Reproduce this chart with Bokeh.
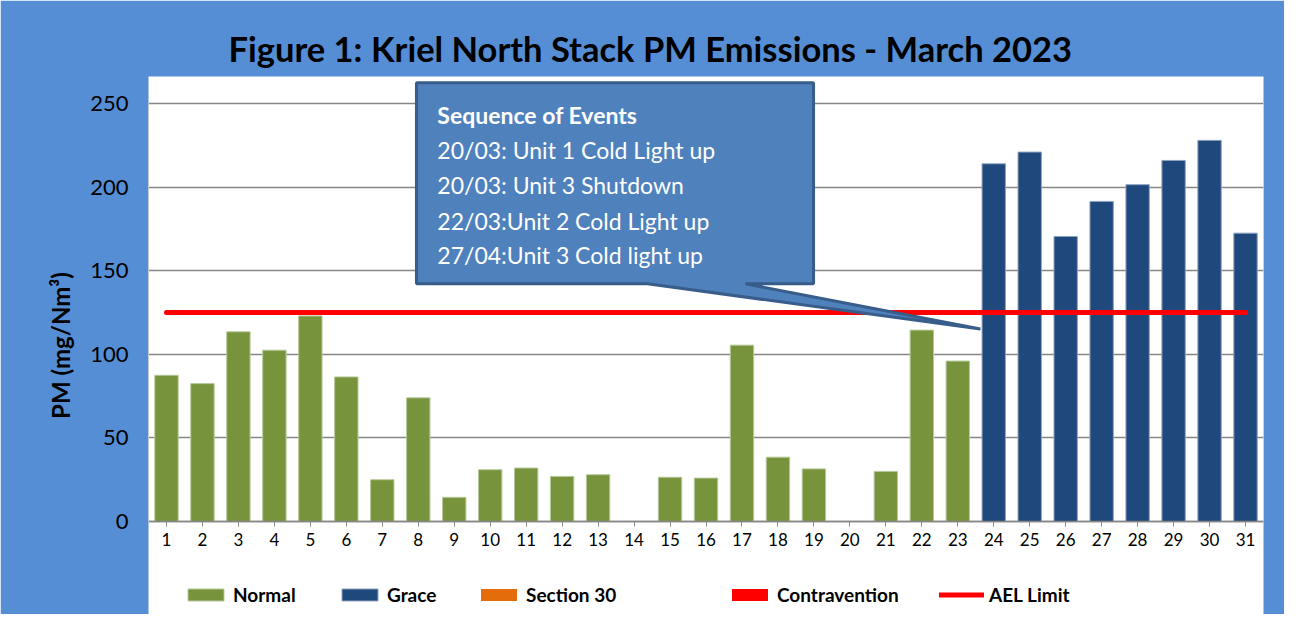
from bokeh.plotting import figure
from bokeh.models import (ColumnDataSource, FixedTicker, Legend, LegendItem, Label,
                          PolyAnnotation, BoxAnnotation, Range1d)
from bokeh.embed import file_html
from bokeh.resources import INLINE

# ---------------- data ----------------
days = list(range(1, 32))
normal_days = list(range(1, 24))
normal_pm = [87.5, 82.5, 113.5, 102.5, 123, 86.5, 25, 74, 14.5, 31, 32, 27, 28,
             0, 26.5, 26, 105.5, 38.5, 31.5, 0, 30, 114.5, 96]
grace_days = list(range(24, 32))
grace_pm = [214, 221, 170.5, 191.5, 201.5, 216, 228, 172.5]
# no Section 30 / Contravention days this month (all zero)
section30_pm = [0, 0, 0, 0, 0, 0, 0, 0, 0, 0, 0, 0, 0, 0, 0, 0,
                0, 0, 0, 0, 0, 0, 0, 0, 0, 0, 0, 0, 0, 0, 0]
contravention_pm = [0, 0, 0, 0, 0, 0, 0, 0, 0, 0, 0, 0, 0, 0, 0, 0,
                    0, 0, 0, 0, 0, 0, 0, 0, 0, 0, 0, 0, 0, 0, 0]
ael_limit = 125
y_ticks = [0, 50, 100, 150, 200, 250]

title_text = "Figure 1: Kriel North Stack PM Emissions -  March 2023"
y_label = "PM (mg/Nm³)"
callout_lines = ["Sequence of Events",
                 "20/03: Unit 1 Cold Light up",
                 "20/03: Unit 3 Shutdown",
                 "22/03:Unit 2 Cold Light up",
                 "27/04:Unit 3 Cold light up"]

# ---------------- styles ----------------
BG = "#558ED5"
GREEN = "#77933C"
NAVY = "#1F497D"
ORANGE = "#E46C0A"
RED = "#FF0000"
FONT = "Lato"

# frame spans from above the plot area (room for the callout) down to the
# bottom of the figure (room for the legend); white area drawn for 0..250.
p = figure(width=1284, height=614, output_backend="svg", toolbar_location=None,
           x_range=Range1d(0.5, 31.5), y_range=Range1d(-55.6, 266.2),
           min_border_left=148, min_border_right=21, min_border_top=76,
           min_border_bottom=0)
p.background_fill_alpha = 0
p.border_fill_color = BG
p.outline_line_color = None

p.add_layout(BoxAnnotation(bottom=0, top=250, fill_color="white", fill_alpha=1.0,
                           line_color=None, level="image"))

# title
p.title.text = title_text
p.title.align = "left"
p.title.offset = 80
p.title.standoff = 16
p.title.text_font = FONT
p.title.text_font_size = "34.5px"
p.title.text_font_style = "bold"
p.title.text_color = "black"

bar_w = 0.65
src_n = ColumnDataSource(dict(x=normal_days, top=normal_pm))
src_g = ColumnDataSource(dict(x=grace_days, top=grace_pm))
src_s = ColumnDataSource(dict(x=days, top=section30_pm))
src_c = ColumnDataSource(dict(x=days, top=contravention_pm))

r_n = p.vbar(x="x", top="top", width=bar_w, source=src_n, fill_color=GREEN,
             line_color="#B7C99A", line_width=1)
r_g = p.vbar(x="x", top="top", width=bar_w, source=src_g, fill_color=NAVY,
             line_color="#8FA4C0", line_width=1)
r_s = p.vbar(x="x", top="top", width=bar_w, source=src_s, fill_color=ORANGE,
             line_color=None)
r_c = p.vbar(x="x", top="top", width=bar_w, source=src_c, fill_color=RED,
             line_color=None)
r_l = p.line(x=days, y=[ael_limit] * len(days), line_color=RED, line_width=5,
             line_cap="round")

# axes
p.xaxis.fixed_location = 0
p.xaxis.ticker = FixedTicker(ticks=days)
p.xaxis.axis_line_color = "#868686"
p.xaxis.axis_line_width = 1.5
p.xaxis.major_tick_line_color = "#868686"
p.xaxis.major_tick_out = 5
p.xaxis.major_tick_in = 0
p.xaxis.minor_tick_line_color = None
p.xaxis.major_label_text_font = FONT
p.xaxis.major_label_text_font_size = "17px"
p.xaxis.major_label_text_color = "black"
p.xaxis.major_label_standoff = 6

p.yaxis.ticker = FixedTicker(ticks=y_ticks)
p.yaxis.bounds = (0, 250)
p.yaxis.axis_line_color = "#C8C8C8"
p.yaxis.major_tick_line_color = None
p.yaxis.minor_tick_line_color = None
p.yaxis.major_label_text_font = FONT
p.yaxis.major_label_text_font_size = "22px"
p.yaxis.major_label_text_color = "black"
p.yaxis.major_label_standoff = 14
p.yaxis.axis_label = y_label
p.yaxis.axis_label_text_font = FONT
p.yaxis.axis_label_text_font_size = "24px"
p.yaxis.axis_label_text_font_style = "bold"
p.yaxis.axis_label_text_color = "black"
p.yaxis.axis_label_standoff = 12

p.xgrid.grid_line_color = None
p.ygrid.grid_line_color = "#868686"
p.ygrid.grid_line_width = 1.5

# callout (box with pointer)
callout = PolyAnnotation(
    xs=[7.95, 18.99, 18.99, 17.1, 23.63, 14.37, 7.95],
    ys=[262.4, 262.4, 142.2, 142.2, 115.2, 142.2, 142.2],
    fill_color="#4F81BD", fill_alpha=1.0, line_color="#385D8A", line_alpha=1.0,
    line_width=3)
p.add_layout(callout)
line_y = [243.1, 222.2, 201.3, 179.6, 159.4]
for i, (txt, yy) in enumerate(zip(callout_lines, line_y)):
    p.add_layout(Label(x=8.53, y=yy, text=txt, text_color="white",
                       text_font=FONT, text_font_size="23px",
                       text_font_style="bold" if i == 0 else "normal",
                       text_baseline="middle", text_align="left"))

# legends (one per item, to reproduce the uneven spacing)
legend_specs = [("Normal", r_n, 35), ("Grace", r_g, 189), ("Section 30", r_s, 328),
                ("Contravention", r_c, 579), ("AEL Limit", r_l, 791)]
for label, rend, xoff in legend_specs:
    lg = Legend(items=[LegendItem(label=label, renderers=[rend])],
                location=(xoff, 8), orientation="horizontal",
                glyph_width=45, glyph_height=15, label_standoff=5,
                label_height=20, padding=0, margin=0, spacing=0,
                border_line_color=None, background_fill_alpha=0,
                label_text_font=FONT, label_text_font_size="19px",
                label_text_font_style="bold", label_text_color="black")
    p.add_layout(lg, "center")

open("out.html", "w").write(file_html(p, INLINE))
